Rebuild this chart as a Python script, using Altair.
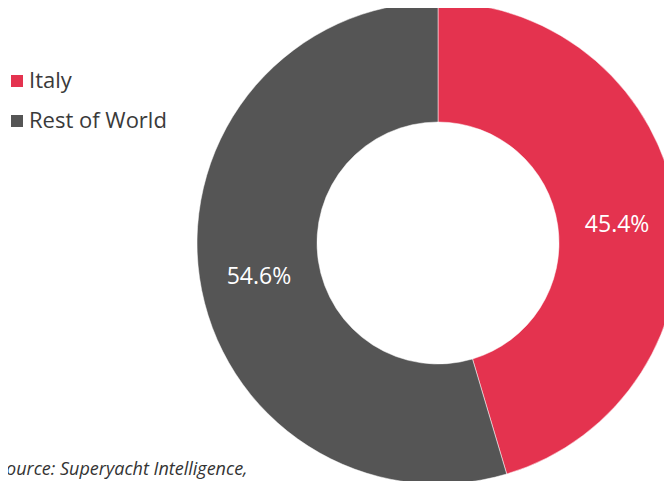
import altair as alt
import pandas as pd

categories = ["Italy", "Rest of World"]
shares = [45.4, 54.6]
labels = ["45.4%", "54.6%"]
colors = ["#E4334F", "#555555"]
source_note = ["Source: Superyacht Intelligence,"]

FONT = "Open Sans"

df = pd.DataFrame({
    "category": categories,
    "share": shares,
    "label": labels,
    "order": list(range(len(categories))),
})

cx, cy = 430, 235

base = alt.Chart(df).encode(
    theta=alt.Theta("share:Q", stack=True),
    order=alt.Order("order:Q"),
    x=alt.value(cx),
    y=alt.value(cy),
)

arc = base.mark_arc(innerRadius=121, outerRadius=241, stroke="#ffffff", strokeWidth=0.5).encode(
    color=alt.Color(
        "category:N",
        scale=alt.Scale(domain=categories, range=colors),
        legend=alt.Legend(
            title=None,
            orient="none",
            legendX=-2,
            legendY=62,
            symbolType="square",
            symbolSize=144,
            symbolStrokeWidth=0,
            labelFontSize=22,
            labelFont=FONT,
            labelColor="#3a3a3a",
            labelOffset=1,
            rowPadding=18,
        ),
    )
)

text = base.mark_text(
    radius=181, fontSize=23, font=FONT, color="white", dy=8
).encode(text="label:N")

src = alt.Chart(pd.DataFrame({"t": source_note})).mark_text(
    align="left", baseline="alphabetic", fontStyle="italic", fontSize=18,
    font=FONT, color="#333333"
).encode(x=alt.value(-11), y=alt.value(467), text="t:N")

chart = alt.layer(arc, text, src).properties(
    width=656, height=473, padding=0, autosize=alt.AutoSizeParams(type="none")
).configure_view(stroke=None)

chart.save("out.html", embed_options={"renderer": "svg", "actions": False})
